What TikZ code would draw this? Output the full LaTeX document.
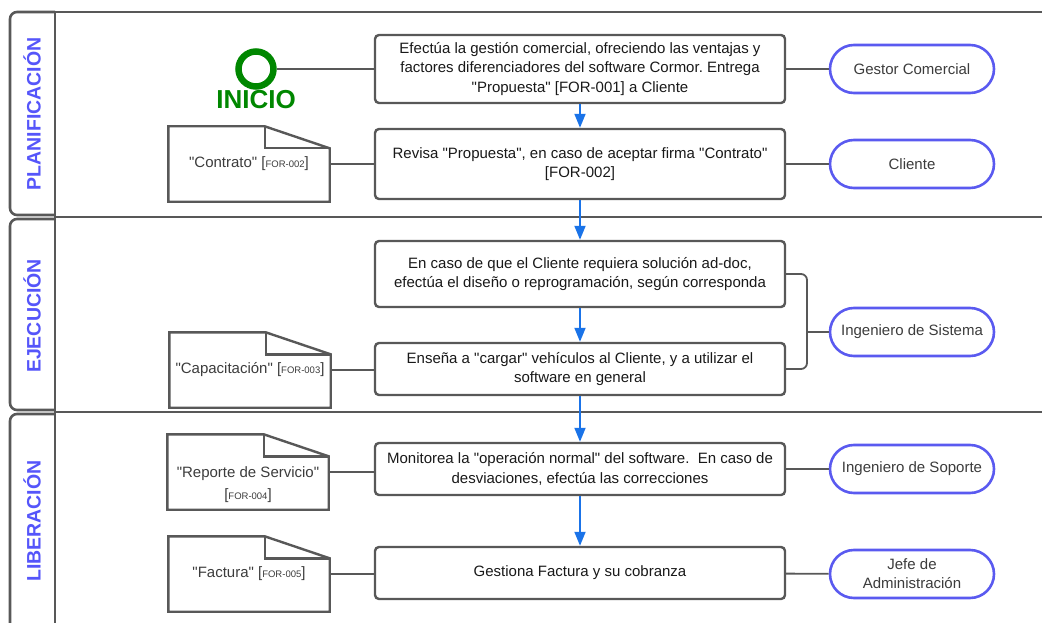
\documentclass[tikz,border=0pt]{standalone}
\usepackage{fontspec}
\setmainfont{Liberation Sans}[Ligatures=TeXOff]
\usetikzlibrary{arrows.meta}
\definecolor{lineagris}{RGB}{88,88,88}
\definecolor{azulrol}{RGB}{90,90,240}
\definecolor{azulflujo}{RGB}{26,115,232}
\definecolor{verdeinicio}{RGB}{0,135,0}
\definecolor{textogris}{RGB}{60,60,60}
\definecolor{azulcarril}{RGB}{85,85,250}
\newcommand{\forref}[1]{[{\fontsize{9.5}{11}\selectfont #1}]}
\frenchspacing
\tikzset{
  paso/.style={draw=lineagris, line width=2.4pt, rounded corners=4pt, fill=white,
    minimum width=410pt, align=center, text=black!90,
    font=\fontsize{15}{19.5}\selectfont},
  rol/.style={draw=azulrol, line width=2.6pt, rounded corners=24pt, fill=white,
    minimum width=164pt, minimum height=48pt, inner sep=2pt, align=center,
    text=textogris, font=\fontsize{15}{19}\selectfont},
  doc/.style={minimum width=161pt, minimum height=75pt, align=center,
    text=textogris, font=\fontsize{15}{21}\selectfont},
  docline/.style={draw=lineagris, line width=2.4pt},
  enlace/.style={draw=lineagris, line width=1.8pt},
  flujo/.style={draw=azulflujo, line width=1.8pt, -{Triangle[length=14pt,width=11pt]}},
  carrilline/.style={draw=lineagris, line width=2.6pt},
  titulo/.style={rotate=90, text=azulcarril, font=\fontsize{19.5}{22}\selectfont\bfseries}
}
\begin{document}
\begin{tikzpicture}[x=1pt,y=-1pt]
\useasboundingbox (0,0) rectangle (1042,623);
\clip (0,0) rectangle (1042,623);
% carriles
\draw[carrilline, rounded corners=7pt] (55,12) -| (10,215) -- (55,215);
\draw[carrilline, rounded corners=7pt] (55,219) -| (10,410) -- (55,410);
\draw[carrilline, rounded corners=7pt] (55,414) -| (10,640);
\draw[carrilline] (55,12) -- (1042,12);
\draw[carrilline] (55,217) -- (1042,217);
\draw[carrilline] (55,412) -- (1042,412);
\draw[carrilline] (55,12) -- (55,640);
\node[titulo] (planif) at (32,114) {PLANIFICACIÓN};
\node[titulo] (ejec) at (32,316) {EJECUCIÓN};
\node[titulo] (liber) at (32,521) {LIBERACIÓN};

% inicio
\node[circle, draw=verdeinicio, line width=6.5pt, minimum size=35pt] (inicio) at (256,69) {};
\node[text=verdeinicio, font=\fontsize{26}{28}\selectfont\bfseries] (iniciotxt) at (256,100) {INICIO};

% actividades
\node[paso, minimum height=68pt] (gestion) at (580,69)
  {Efectúa la gestión comercial, ofreciendo las ventajas y\\
   factores diferenciadores del software Cormor. Entrega\\
   "Propuesta" [FOR-001] a Cliente};
\node[paso, minimum height=70pt] (revisa) at (580,164)
  {Revisa "Propuesta", en caso de aceptar firma "Contrato"\\ {[FOR-002]}};
\node[paso, minimum height=66pt] (diseno) at (580,274)
  {En caso de que el Cliente requiera solución ad-doc,\\
   efectúa el diseño o reprogramación, según corresponda};
\node[paso, minimum height=52pt] (ensena) at (580,369)
  {Enseña a "cargar" vehículos al Cliente, y a utilizar el\\ software en general};
\node[paso, minimum height=52pt] (monitorea) at (580,469)
  {Monitorea la "operación normal" del software.\ \ En caso de\\
   desviaciones, efectúa las correcciones};
\node[paso, minimum height=52pt] (cobranza) at (580,573)
  {Gestiona Factura y su cobranza};

% responsables
\node[rol] (gestor) at (912,69) {Gestor Comercial};
\node[rol] (cliente) at (912,164) {Cliente};
\node[rol] (ingsis) at (912,332) {Ingeniero de Sistema};
\node[rol] (ingsop) at (912,469) {Ingeniero de Soporte};
\node[rol] (jefe) at (912,574) {Jefe de\\Administración};

% documentos
\node[doc] (contrato) at (249,164) {"Contrato" \forref{FOR-002}};
\node[doc] (capacitacion) at (250,370) {"Capacitación" \forref{FOR-003}};
\node[doc] (reporte) at (248,472)
  {\raisebox{-12pt}[\height][\depth]{\begin{tabular}{@{}c@{}}"Reporte de Servicio"\\[1pt]\forref{FOR-004}\end{tabular}}};
\node[doc] (facturadoc) at (249,574) {"Factura" \forref{FOR-005}};
\foreach \d in {contrato,capacitacion,reporte,facturadoc}{
  \draw[docline] (\d.north west) -- ([xshift=-65pt]\d.north east)
    -- ([yshift=-22pt]\d.north east) -- (\d.south east) -- (\d.south west) -- cycle;
  \draw[docline] ([xshift=-65pt]\d.north east) |- ([yshift=-22pt]\d.north east);
}

% enlaces
\draw[enlace] (inicio.east) -- (inicio.east -| gestion.west);
\draw[enlace] (gestion) -- (gestor);
\draw[enlace] (revisa) -- (cliente);
\draw[enlace] (monitorea) -- (ingsop);
\draw[enlace] (cobranza) -- (jefe);
\draw[enlace] (contrato.east) -- (contrato.east -| revisa.west);
\draw[enlace] (capacitacion.east) -- (capacitacion.east -| ensena.west);
\draw[enlace] (reporte.east) -- (reporte.east -| monitorea.west);
\draw[enlace] (facturadoc.east) -- (facturadoc.east -| cobranza.west);
\coordinate (llave) at (807,332);
\draw[enlace, rounded corners=6pt] (diseno.east) -| (llave) |- (ensena.east);
\draw[enlace] (llave) -- (ingsis);

% flujo
\draw[flujo] (gestion) -- (revisa);
\draw[flujo] (revisa) -- (diseno);
\draw[flujo] (diseno) -- (ensena);
\draw[flujo] (ensena) -- (monitorea);
\draw[flujo] (monitorea) -- (cobranza);
\end{tikzpicture}
\end{document}
